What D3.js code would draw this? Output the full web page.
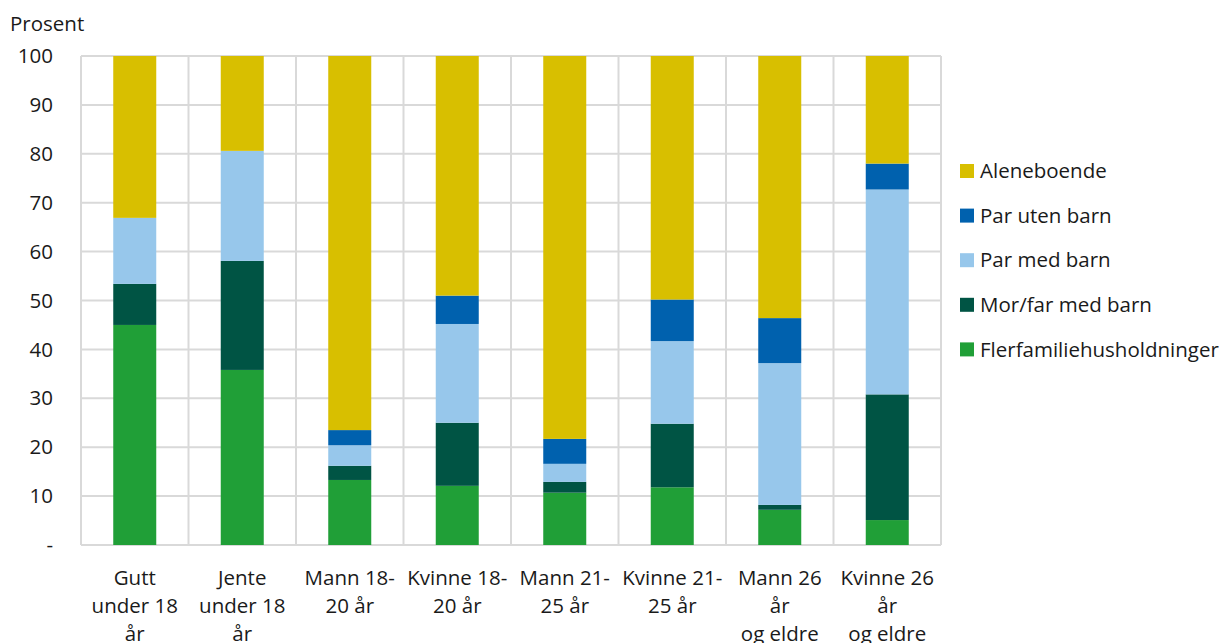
<!DOCTYPE html>
<meta charset="utf-8">
<title>Husholdningstype</title>
<style>
  body { margin: 0; background: white; }
  svg { font-family: 'Open Sans', 'Noto Sans', sans-serif; }
</style>
<body>
<div id="chart"></div>
<script src="https://d3js.org/d3.v7.min.js"></script>
<script>
// categories (lines of each x label)
var categories = [
  ["Gutt", "under 18", "år"],
  ["Jente", "under 18", "år"],
  ["Mann 18-", "20 år"],
  ["Kvinne 18-", "20 år"],
  ["Mann 21-", "25 år"],
  ["Kvinne 21-", "25 år"],
  ["Mann 26", "år", "og eldre"],
  ["Kvinne 26", "år", "og eldre"]
];
var seriesNames = ["Flerfamiliehusholdninger", "Mor/far med barn", "Par med barn", "Par uten barn", "Aleneboende"];
var flerfamilie = [45.0, 35.8, 13.3, 12.1, 10.7, 11.8, 7.2, 5.1];
var morFar      = [8.4, 22.3, 2.9, 12.9, 2.2, 13.0, 1.0, 25.7];
var parMedBarn  = [13.5, 22.5, 4.2, 20.2, 3.7, 16.9, 29.0, 41.9];
var parUtenBarn = [0, 0, 3.1, 5.8, 5.1, 8.5, 9.2, 5.3];
var aleneboende = [33.1, 19.4, 76.5, 49.0, 78.3, 49.8, 53.6, 22.0];
var yTicks = [0, 10, 20, 30, 40, 50, 60, 70, 80, 90, 100];
var colors = ["#209f37", "#005444", "#97c7eb", "#0061ae", "#d8bf00"];

var width = 1229, height = 643;
var margin = {top: 56, left: 81, right: 288, bottom: 98};
var fs = 20.5;

var svg = d3.select("#chart").append("svg")
  .attr("width", width).attr("height", height);

var keys = categories.map(function(d){ return d.join(" "); });
var table = keys.map(function(k, i) {
  return {key: k, "Flerfamiliehusholdninger": flerfamilie[i], "Mor/far med barn": morFar[i],
    "Par med barn": parMedBarn[i], "Par uten barn": parUtenBarn[i], "Aleneboende": aleneboende[i]};
});

var x = d3.scaleBand().domain(keys)
  .range([margin.left, width - margin.right]).paddingInner(0.6).paddingOuter(0.3);
var y = d3.scaleLinear().domain([0, 100]).range([height - margin.bottom, margin.top]);
var x0 = margin.left, x1 = width - margin.right;

// grid
var grid = svg.append("g").attr("stroke", "#d9d9d9").attr("stroke-width", 2);
grid.selectAll("line.h").data(yTicks).enter().append("line")
  .attr("x1", x0).attr("x2", x1)
  .attr("y1", function(d){ return y(d); }).attr("y2", function(d){ return y(d); });
grid.selectAll("line.v").data(d3.range(keys.length + 1)).enter().append("line")
  .attr("x1", function(i){ return x0 + i * (x1 - x0) / keys.length; })
  .attr("x2", function(i){ return x0 + i * (x1 - x0) / keys.length; })
  .attr("y1", y(100)).attr("y2", y(0));

// stacked bars
var stack = d3.stack().keys(seriesNames)(table);
svg.append("g").selectAll("g").data(stack).enter().append("g")
  .attr("fill", function(d, i){ return colors[i]; })
  .selectAll("rect").data(function(d){ return d; }).enter().append("rect")
  .attr("x", function(d){ return x(d.data.key); })
  .attr("width", x.bandwidth())
  .attr("y", function(d){ return y(d[1]); })
  .attr("height", function(d){ return y(d[0]) - y(d[1]); });

// y axis labels
svg.append("g").selectAll("text").data(yTicks).enter().append("text")
  .attr("x", 53).attr("y", function(d){ return y(d); })
  .attr("dy", "0.35em").attr("text-anchor", "end")
  .attr("font-size", fs).attr("fill", "#1a1a1a")
  .text(function(d){ return d === 0 ? "-" : d; });

svg.append("text").attr("x", 10).attr("y", 31)
  .attr("font-size", fs).attr("fill", "#1a1a1a").text("Prosent");

// x labels
var xl = svg.append("g").selectAll("text").data(categories).enter().append("text")
  .attr("x", function(d, i){ return x(keys[i]) + x.bandwidth() / 2; })
  .attr("y", 585).attr("text-anchor", "middle")
  .attr("font-size", fs).attr("fill", "#1a1a1a");
xl.selectAll("tspan").data(function(d){ return d; }).enter().append("tspan")
  .attr("x", function(){ return d3.select(this.parentNode).attr("x"); })
  .attr("dy", function(d, i){ return i === 0 ? 0 : 28; })
  .text(function(d){ return d; });

// legend
var legendOrder = seriesNames.slice().reverse();
var lg = svg.append("g").selectAll("g").data(legendOrder).enter().append("g")
  .attr("transform", function(d, i){ return "translate(960," + (171 + i * 44.6) + ")"; });
lg.append("rect").attr("x", 0).attr("y", -7).attr("width", 14).attr("height", 14)
  .attr("fill", function(d){ return colors[seriesNames.indexOf(d)]; });
lg.append("text").attr("x", 20).attr("dy", "0.35em")
  .attr("font-size", fs).attr("fill", "#1a1a1a")
  .text(function(d){ return d; });
</script>
</body>
